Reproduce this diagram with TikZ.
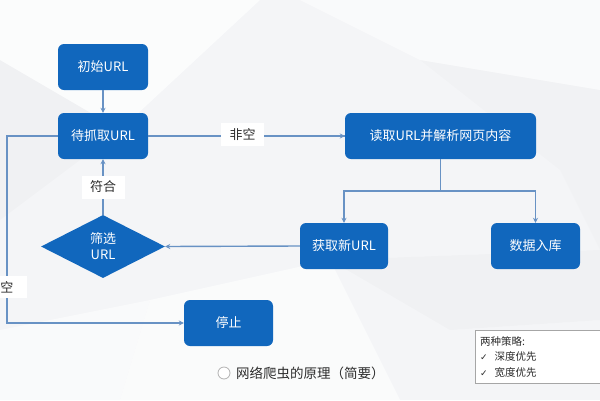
\documentclass[tikz,border=0pt]{standalone}
\usepackage{fontspec}
\setmainfont{Noto Sans CJK SC}
\newfontfamily\symfont{DejaVu Sans}
\usetikzlibrary{shapes.geometric,arrows.meta}
\definecolor{boxblue}{RGB}{17,103,189}
\definecolor{linkblue}{RGB}{104,146,196}
\definecolor{txtgray}{RGB}{45,45,45}
\definecolor{bggray}{RGB}{244,245,247}
\tikzset{
  stepbox/.style={draw=none,fill=boxblue,rounded corners=6pt,text=white,
    font=\fontsize{13}{15}\selectfont,minimum height=46pt,inner sep=0pt},
  decide/.style={diamond,fill=boxblue,text=white,inner sep=0pt,aspect=1.97,
    minimum width=124pt,minimum height=63pt,align=center,
    font=\fontsize{13}{16}\selectfont},
  link/.style={draw=linkblue,line width=1.4pt,
    -{Stealth[length=5pt,width=5pt]}},
  plain/.style={draw=linkblue,line width=1.4pt},
  edgelabel/.style={fill=white,text=txtgray,font=\fontsize{13}{15}\selectfont,
    minimum width=43pt,minimum height=23pt,inner sep=0pt},
  legendtxt/.style={text=txtgray,font=\fontsize{10.5}{12}\selectfont,anchor=west,inner sep=0pt}
}
\begin{document}
\begin{tikzpicture}[x=1pt,y=-1pt]
\useasboundingbox (0,0) rectangle (600,400);
% background
\fill[bggray] (0,0) rectangle (600,400);
\fill[white,opacity=0.7] (0,0) -- (260,0) -- (120,130) -- (0,60) -- cycle;
\fill[white,opacity=0.5] (300,0) -- (600,0) -- (600,90) -- (420,60) -- cycle;
\fill[black,opacity=0.015] (0,60) -- (120,130) -- (0,220) -- cycle;
\fill[white,opacity=0.6] (150,300) -- (330,260) -- (400,400) -- (120,400) -- cycle;
\fill[black,opacity=0.015] (330,260) -- (600,250) -- (600,320) -- (450,330) -- cycle;
\fill[white,opacity=0.5] (0,330) -- (150,300) -- (120,400) -- (0,400) -- cycle;
\fill[black,opacity=0.012] (420,60) -- (600,90) -- (600,250) -- (560,170) -- cycle;

% nodes
\node[stepbox,minimum width=90pt] (start) at (103,67) {初始URL};
\node[stepbox,minimum width=90pt] (queue) at (103,136) {待抓取URL};
\node[stepbox,minimum width=191pt] (read) at (440.5,136) {读取URL并解析网页内容};
\node[stepbox,minimum width=88pt] (newurl) at (344,246) {获取新URL};
\node[stepbox,minimum width=89pt] (store) at (535.5,246) {数据入库};
\node[decide] (filter) at (103,246.5) {筛选\\URL};
\node[stepbox,minimum width=89pt] (stop) at (228.5,323) {停止};

\coordinate (split) at (440.5,191);
\coordinate (leftup) at (7,136);
\coordinate (leftdown) at (7,323);

% connectors
\draw[link] (start) -- (queue);
\draw[plain] (queue.east) -- (read.west);
\draw[link] (265,136) -- (read.west);
\draw[plain] (read.south) -- (split);
\draw[link] (split) -| (newurl.north);
\draw[link] (split) -| (store.north);
\draw[link] (newurl.west) -- (filter.east);
\draw[link] (filter.north) -- (queue.south);
\draw[link] (queue.west) -- (leftup) -- (leftdown) -- (stop.west);

% edge labels
\node[edgelabel] (nonempty) at (242.5,134.5) {非空};
\node[edgelabel] (match) at (103,187) {符合};
\node[edgelabel,minimum width=40pt,minimum height=22pt] (empty) at (7,287) {空};

% caption
\draw[gray!60,fill=white,line width=0.8pt] (224,373) circle (6pt);
\node[anchor=west,text=txtgray,font=\fontsize{13.5}{16}\selectfont,inner sep=0pt] (caption) at (236,373) {网络爬虫的原理（简要）};

% legend
\node[draw=gray!70,fill=white,line width=0.6pt,minimum width=135pt,minimum height=53pt,anchor=north west,inner sep=0pt] (legend) at (475,330) {};
\node[legendtxt] (l1) at (480,341) {两种策略:};
\node[legendtxt] (l2) at (480,357) {{\symfont\fontsize{9}{10}\selectfont ✓}\hspace{7pt}深度优先};
\node[legendtxt] (l3) at (480,373) {{\symfont\fontsize{9}{10}\selectfont ✓}\hspace{7pt}宽度优先};
\end{tikzpicture}
\end{document}
